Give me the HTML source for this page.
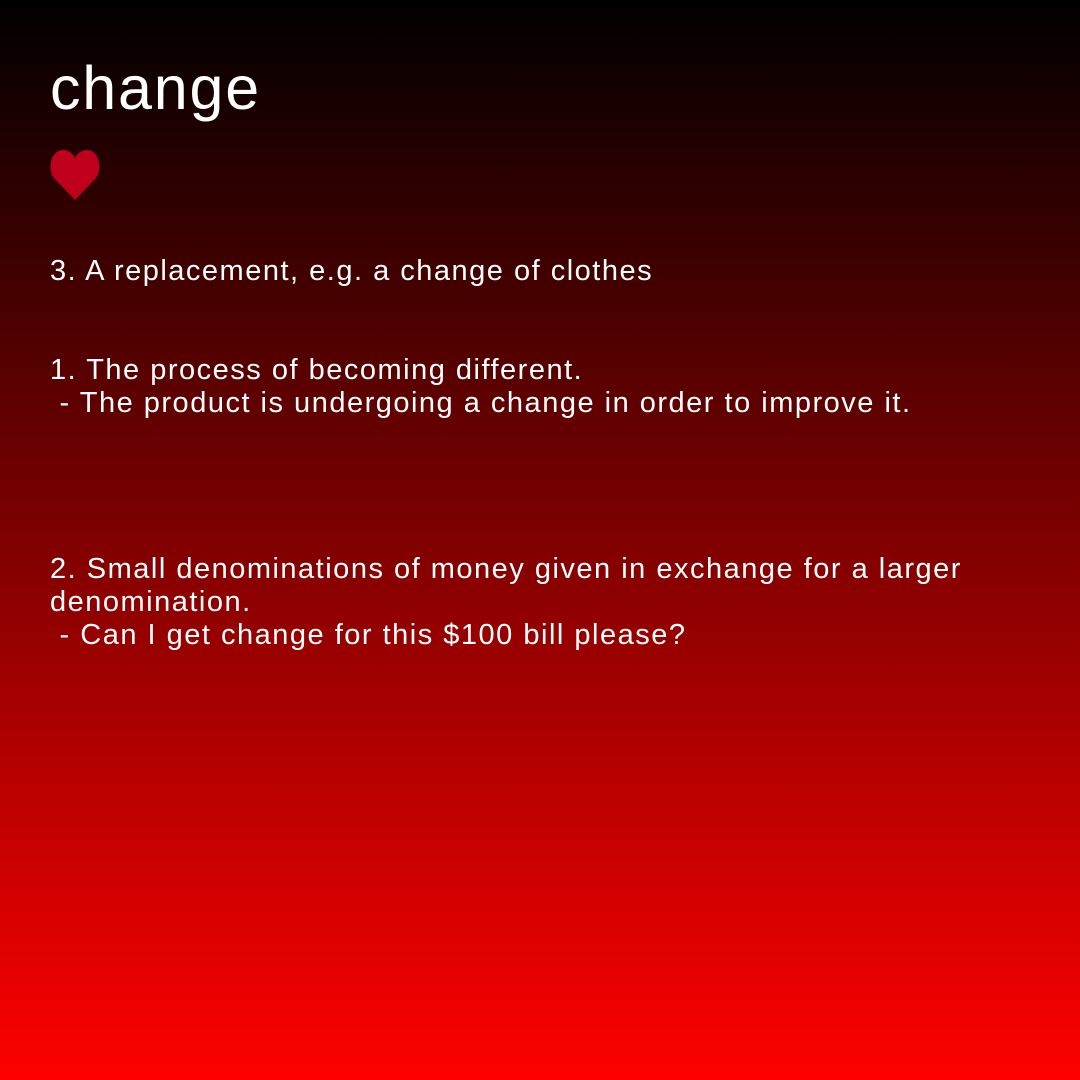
<!DOCTYPE html>
<html><head><meta charset="utf-8"><style>
html,body{margin:0;padding:0}
body{width:1080px;height:1080px;overflow:hidden;position:relative;background:linear-gradient(to bottom,#000000,#ff0000);font-family:"Liberation Sans",Arial,sans-serif;color:#fff}
.t{position:absolute;left:50px;top:58px;font-size:61px;line-height:60px;margin:0;letter-spacing:1.8px}
.p{position:absolute;left:50px;font-size:29px;line-height:33px;white-space:pre;margin:0;letter-spacing:1.5px}
svg{position:absolute;left:50px;top:150px}
</style></head><body>
<div class="t">change</div>
<svg width="50" height="50" viewBox="0 0 50 50"><path d="M25 50 L4 28 C-3 19 1 0 13 0 C19 0 23 4 25 8 C27 4 31 0 37 0 C49 0 53 19 46 28 Z" fill="#bf001c"/></svg>
<div class="p" style="top:255px">3. A replacement, e.g. a change of clothes</div>
<div class="p" style="top:354px">1. The process of becoming different.
 - The product is undergoing a change in order to improve it.</div>
<div class="p" style="top:553px">2. Small denominations of money given in exchange for a larger
denomination.
 - Can I get change for this $100 bill please?</div>
</body></html>
